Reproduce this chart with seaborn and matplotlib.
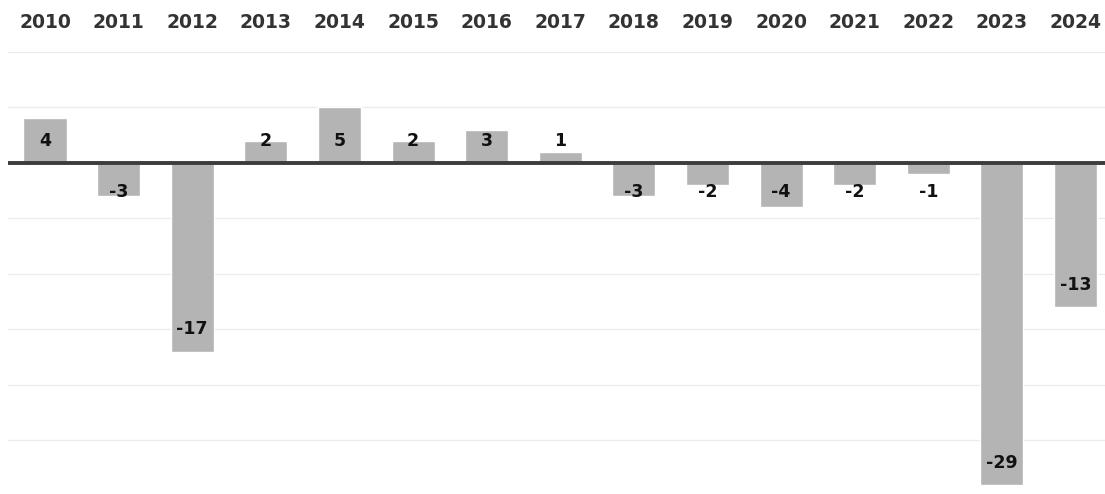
import pandas as pd
import matplotlib.pyplot as plt
import seaborn as sns

years = ['2010', '2011', '2012', '2013', '2014', '2015', '2016', '2017',
         '2018', '2019', '2020', '2021', '2022', '2023', '2024']
values = [4, -3, -17, 2, 5, 2, 3, 1, -3, -2, -4, -2, -1, -29, -13]

df = pd.DataFrame({'year': years, 'value': values})

sns.set_theme(style='white')
plt.rcParams['font.family'] = ['DejaVu Sans']

fig = plt.figure(figsize=(11.05, 4.94), dpi=100)
ax = fig.add_axes([0.0074, 0.005, 0.9926, 0.89])

sns.barplot(data=df, x='year', y='value', color='#b4b4b4', saturation=1,
            width=0.585, ax=ax)

ax.set_ylim(-29.6, 10)
ax.set_xlim(-0.5, 14.4)
ax.set_yticks(range(-25, 11, 5))
ax.yaxis.grid(True, color='#ececec', linewidth=1)
ax.set_axisbelow(True)
ax.axhline(0, color='#3c3c3c', linewidth=2.8, zorder=3)

ax.xaxis.tick_top()
ax.tick_params(axis='x', length=0, pad=14, labelsize=13.5, colors='#333333')
for lbl in ax.get_xticklabels():
    lbl.set_fontweight('bold')
ax.tick_params(axis='y', length=0, labelleft=False)
ax.set_xlabel('')
ax.set_ylabel('')
for s in ax.spines.values():
    s.set_visible(False)

# labels near the bar ends
for i, v in enumerate(values):
    if v > 0:
        y = 2.0
    else:
        y = min(-2.6, v + 2.0)
    ax.text(i, y, str(v), ha='center', va='center', fontsize=12.5,
            fontweight='bold', color='#111111', zorder=4)

fig.savefig('out.png', dpi=100)
